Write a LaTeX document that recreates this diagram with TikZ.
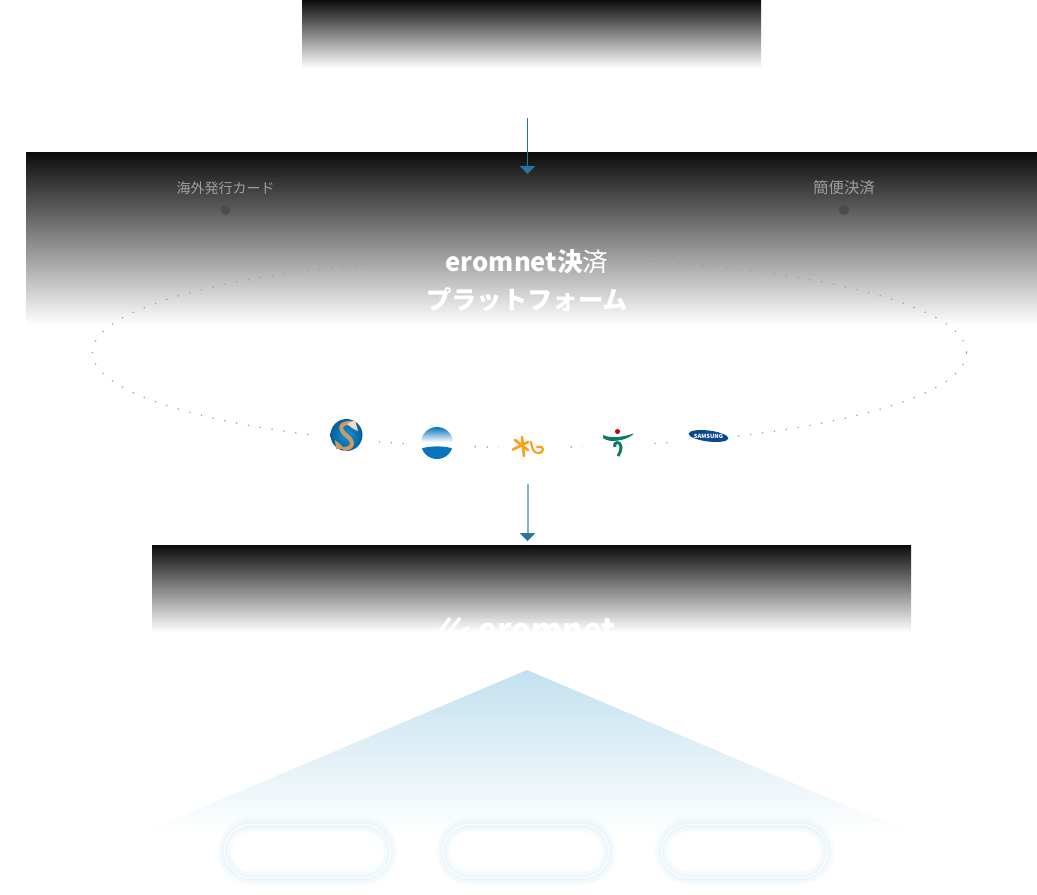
\documentclass[tikz,border=0pt]{standalone}
\usepackage{fontspec}
\setmainfont{Noto Sans CJK JP}
\newfontfamily\jpfont{Noto Sans CJK JP}
\usetikzlibrary{arrows.meta}
\definecolor{arrowblue}{HTML}{25759C}
\definecolor{arrowpale}{HTML}{84B3C8}
\definecolor{panelblack}{HTML}{0C0C0C}
\definecolor{skyblue}{HTML}{C2E1EF}
\definecolor{glowblue}{HTML}{CDEBFA}
\definecolor{logoblue}{HTML}{0A74BE}
\definecolor{logosky}{HTML}{1592DA}
\definecolor{logogold}{HTML}{CB9A66}
\definecolor{logoorange}{HTML}{F9A11B}
\definecolor{logogreen}{HTML}{0B7C63}
\definecolor{logonavy}{HTML}{0A4796}
\tikzset{
  panel/.style={shading=axis,top color=panelblack,bottom color=white,shading angle=0},
  cardlabel/.style={text=black!38,font=\jpfont\fontsize{10.5}{12}\selectfont,inner sep=0pt},
  cardpoint/.style={circle,fill=black!70,inner sep=0pt,minimum size=7.5pt},
  downarrow/.style={-{Triangle[length=6pt,width=11.5pt]},arrowblue},
}
\begin{document}
\begin{tikzpicture}[x=0.75pt,y=-0.75pt]
\useasboundingbox (0,0) rectangle (1037,894);
\fill[white] (0,0) rectangle (1037,894);
% panels
\path[panel] (302,0) rectangle (761,68);
\path[panel] (26,152) rectangle (1037,325);
\path[panel] (152,545) rectangle (911,632);
% labels on the middle panel
\node[cardlabel] (overseas) at (225.5,188) {海外発行カード};
\node[cardpoint] (overseasdot) at (225.5,210) {};
\node[cardlabel,font=\jpfont\fontsize{11.6}{12}\selectfont] (easypay) at (844,188) {簡便決済};
\node[cardpoint] (easypaydot) at (844,210) {};
% ring of dots
\draw[black!40,line width=0.9pt,dash pattern=on 0.9pt off 8.1pt] (529.5,352.5) ellipse [x radius=437,y radius=95];
\node[text=white,inner sep=0pt,font=\jpfont\fontsize{19.2}{24}\selectfont] (platformtop) at (527,262) {{\bfseries eromnet決}済};
\node[text=white,inner sep=0pt,font=\jpfont\bfseries\fontsize{19}{24}\selectfont] (platformbot) at (527,300) {プラットフォーム};
% logos
\foreach \xa/\xb in {318/378,406/472,499/564,583/646,673/738}
  \fill[white] (\xa,415) rectangle (\xb,465);
% shinhan
\shade[inner color=logosky,outer color=logoblue!80!black] (346.5,435) circle (16);
\draw[line width=3pt,color=logogold] (353,423) .. controls (338,422) and (339,430) .. (347,436) .. controls (355,442) and (353,449) .. (343,449);
\fill[logogold] (335,440) -- (340,444) -- (345,449) -- (336,449) -- cycle;
\fill[white!65!logogold] (347,424) -- (355,420) -- (358,431) -- (352,428) -- cycle;
% blue disc
\begin{scope}
\clip (437,443) circle (16);
\shade[top color=logoblue,bottom color=white] (421,427) rectangle (453,442);
\fill[white] (421,442) rectangle (453,449);
\fill[logoblue] (420,449) .. controls (428,445.5) and (446,445.5) .. (454,449) -- (454,460) -- (420,460) -- cycle;
\end{scope}
% kb
\begin{scope}[logoorange,line width=2pt,line cap=round]
\draw (513,449.5) -- (528,442);
\draw (515,440) -- (528,450);
\draw (522,437) -- (524,456);
\draw[line width=1.6pt] (531,442) .. controls (532,449) and (534,453) .. (538,453) .. controls (545,453) and (545,445) .. (537,447);
\end{scope}
% hana
\fill[red!80!black] (617.5,431.5) circle (2.5);
\fill[logogreen] (603,435) .. controls (612,439) and (622,437) .. (634,433.5) .. controls (628,440) and (610,444) .. (603,438) -- cycle;
\draw[logogreen,line width=2.2pt] (615,447) .. controls (613,441) and (621,441) .. (621,447) .. controls (621,450) and (620,453) .. (618,456);
% samsung
\fill[logonavy] (708.5,436) ellipse [x radius=20,y radius=5.5,rotate=-7];
\node[text=white,inner sep=0pt,font=\jpfont\bfseries\fontsize{4.3}{4}\selectfont] (samsung) at (708.5,436) {SAMSUNG};
% logo on the bottom panel
\begin{scope}
\clip (152,545) rectangle (911,632);
\node[text=white,inner sep=0pt,font=\jpfont\bfseries\fontsize{23.7}{30}\selectfont] (eromnet) at (547,630) {eromnet};
\draw[white,line width=2.6pt] (439,633) -- (450,618);
\draw[white,line width=2.6pt] (447,635) -- (460,618);
\draw[white,line width=2.6pt] (455,637) -- (469,627);
\end{scope}
% arrows
\coordinate (toptail) at (527.5,118);
\coordinate (tophead) at (527.5,174);
\coordinate (lowtail) at (528,484);
\coordinate (lowhead) at (527.5,541);
\draw[downarrow,line width=0.75pt] (toptail) -- (tophead);
\draw[arrowpale,line width=1.1pt] (lowtail) -- (528,535);
\draw[downarrow,line width=0.01pt] (527.5,534) -- (lowhead);
% triangle
\path[shading=axis,top color=skyblue,bottom color=white,shading angle=0] (527,670) -- (915,835) -- (137,835) -- cycle;
% pills
\foreach \name/\cx in {leftpill/307.5,midpill/526,rightpill/744.5}{
  \foreach \w in {14,10,6,3}
    \draw[glowblue,opacity=0.11,line width=\w*0.75pt,rounded corners=20pt] (\cx-83,824.5) rectangle (\cx+83,878);
  \node[draw=white,line width=0.8pt,rounded corners=20pt,minimum width=124.5pt,minimum height=40pt,inner sep=0pt] (\name) at (\cx,851.25) {};
}
\end{tikzpicture}
\end{document}
